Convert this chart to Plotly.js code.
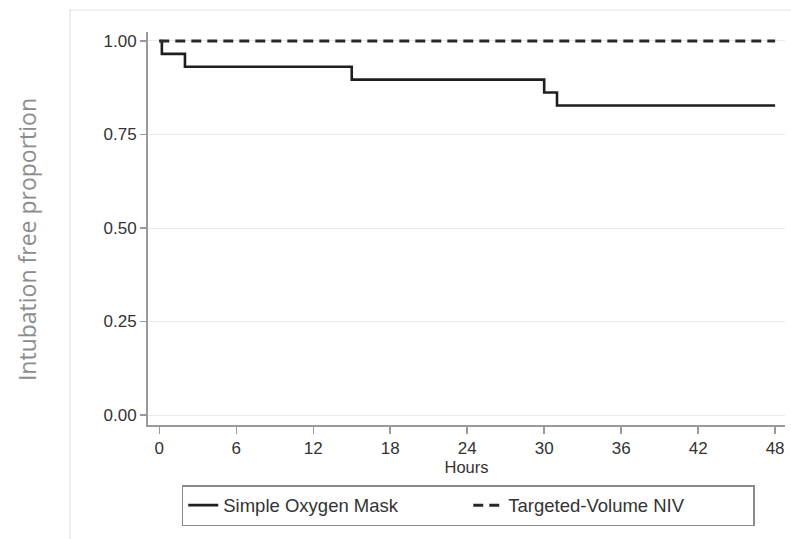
<!DOCTYPE html>
<html>
<head>
<meta charset="utf-8">
<script src="https://cdn.plot.ly/plotly-3.0.1.min.js"></script>
<style>html,body{margin:0;padding:0;background:#fff;}#chart{width:791px;height:539px;}</style>
</head>
<body>
<div id="chart"></div>
<script>
// Kaplan-Meier intubation-free proportion
const maskHours = [0, 0.2, 2, 15, 30, 31, 48];
const maskProportion = [1.0, 0.9655, 0.9310, 0.8966, 0.8621, 0.8276, 0.8276];
const nivHours = [0, 48];
const nivProportion = [1.0, 1.0];
const seriesNames = ["Simple Oxygen Mask", "Targeted-Volume NIV"];
const xTicks = [0, 6, 12, 18, 24, 30, 36, 42, 48];
const yTicks = [0, 0.25, 0.5, 0.75, 1.0];
const yTickLabels = ["0.00", "0.25", "0.50", "0.75", "1.00"];

const traces = [
  {x: maskHours, y: maskProportion, name: seriesNames[0], type: "scatter", mode: "lines",
   line: {shape: "hv", color: "#1e1e1e", width: 2.6}},
  {x: nivHours, y: nivProportion, name: seriesNames[1], type: "scatter", mode: "lines",
   line: {shape: "hv", color: "#2a2a2a", width: 3, dash: "10px,6px"}}
];

const tickFont = {family: "Arial, 'Liberation Sans', sans-serif", size: 17, color: "#333"};

const layout = {
  width: 791, height: 539,
  margin: {l: 148, r: 6, t: 32, b: 114},
  paper_bgcolor: "#fff", plot_bgcolor: "#fff",
  showlegend: true,
  xaxis: {
    range: [-0.88, 48.77], tickvals: xTicks, ticktext: xTicks.map(String),
    showgrid: false, zeroline: false, showline: true, linecolor: "#9a9a9a", linewidth: 2,
    ticks: "outside", ticklen: 7, tickwidth: 1.5, tickcolor: "#9a9a9a",
    tickfont: tickFont,
    title: {text: "Hours", font: {family: "Arial, 'Liberation Sans', sans-serif", size: 16.5, color: "#333"}, standoff: 0}
  },
  yaxis: {
    range: [-0.0267, 1.024], tickvals: yTicks, ticktext: yTickLabels,
    showgrid: true, gridcolor: "#e4eef0", gridwidth: 1, zeroline: false,
    showline: true, linecolor: "#9a9a9a", linewidth: 2,
    ticks: "outside", ticklen: 6, tickwidth: 1.5, tickcolor: "#9a9a9a",
    tickfont: tickFont
  },
  legend: {
    orientation: "h", x: 0.053, xanchor: "left", y: -0.153, yanchor: "top",
    bordercolor: "#8a8a8a", borderwidth: 1.5, bgcolor: "#fff",
    font: {family: "Arial, 'Liberation Sans', sans-serif", size: 18.5, color: "#333"},
    entrywidth: 240, entrywidthmode: "pixels", traceorder: "normal"
  },
  annotations: [{
    xref: "paper", yref: "paper", x: -0.19, y: 0.473, xanchor: "center", yanchor: "middle",
    text: "Intubation free proportion", textangle: -90, showarrow: false,
    font: {family: "'Open Sans', 'Noto Sans', sans-serif", size: 23, color: "#8c8c8c", weight: 400}
  }],
  shapes: [{
    type: "rect", xref: "paper", yref: "paper", x0: -0.1225, x1: 1.2, y0: -0.5, y1: 1.056,
    line: {color: "#e3e3e3", width: 1.2}, fillcolor: "rgba(0,0,0,0)", layer: "below"
  }]
};

Plotly.newPlot("chart", traces, layout, {displayModeBar: false, staticPlot: true});
</script>
</body>
</html>
